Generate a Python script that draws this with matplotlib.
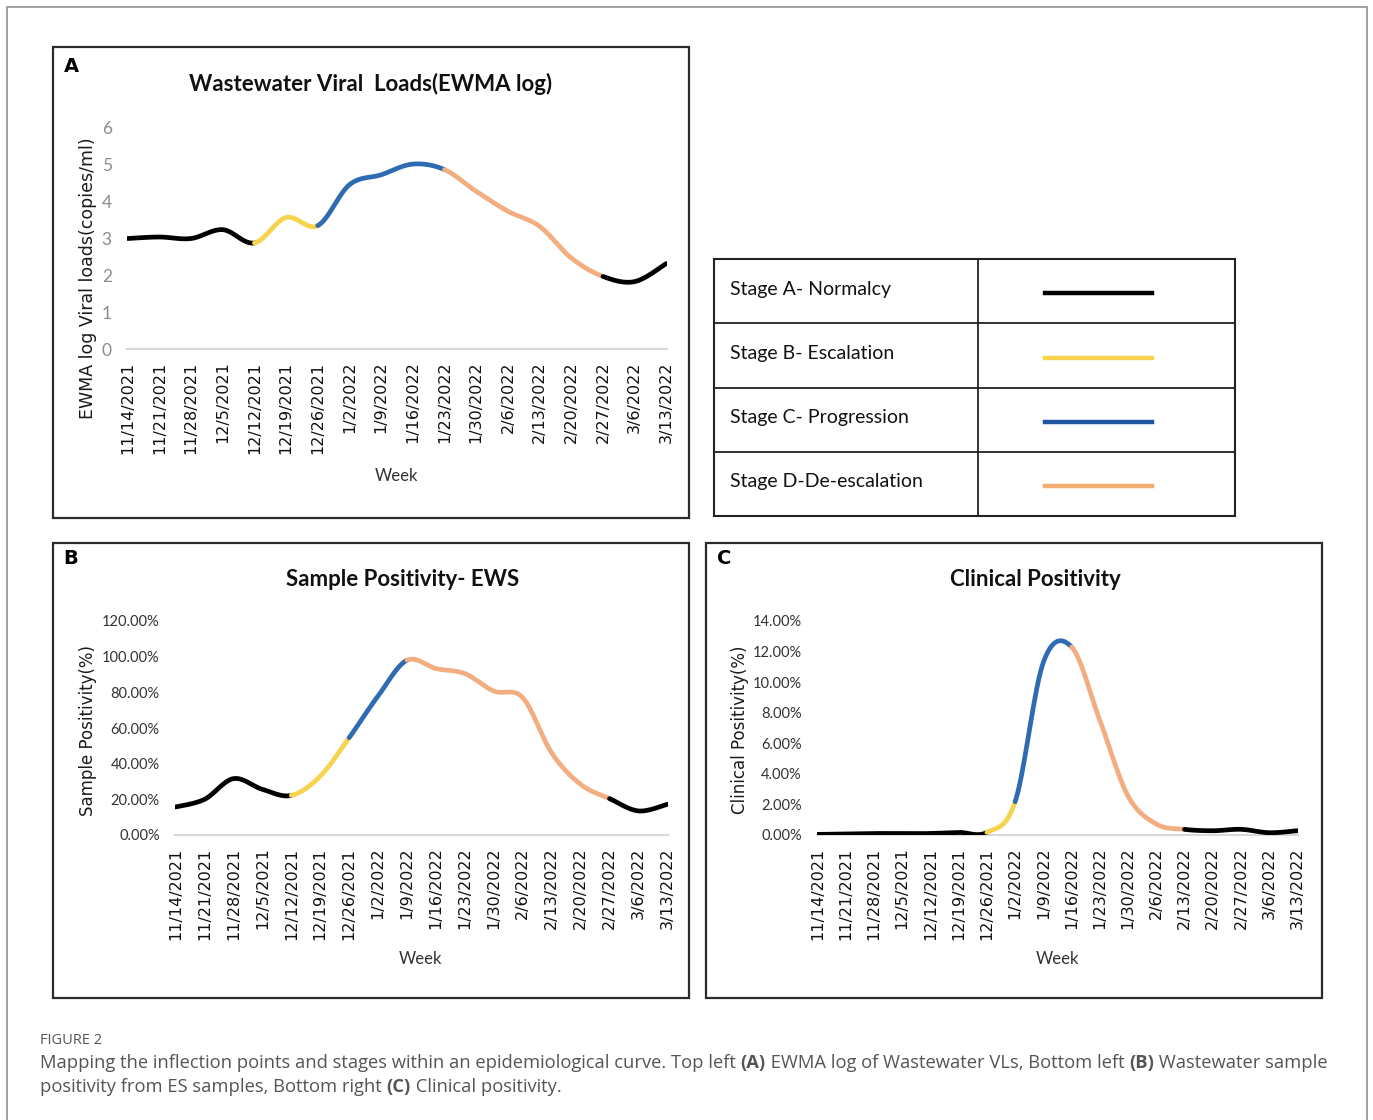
import numpy as np
import matplotlib
matplotlib.use("Agg")
import matplotlib.pyplot as plt
from matplotlib.patches import Rectangle
from matplotlib.lines import Line2D

# ---------------- data ----------------
weeks = ["11/14/2021", "11/21/2021", "11/28/2021", "12/5/2021", "12/12/2021",
         "12/19/2021", "12/26/2021", "1/2/2022", "1/9/2022", "1/16/2022",
         "1/23/2022", "1/30/2022", "2/6/2022", "2/13/2022", "2/20/2022",
         "2/27/2022", "3/6/2022", "3/13/2022"]

ewma_log = [3.00, 3.04, 3.00, 3.24, 2.88, 3.57, 3.35, 4.46, 4.73, 5.02,
            4.87, 4.28, 3.74, 3.33, 2.47, 1.97, 1.83, 2.32]

sample_pos = [0.157, 0.200, 0.316, 0.256, 0.222, 0.330, 0.546, 0.780, 0.980, 0.933,
              0.905, 0.807, 0.770, 0.460, 0.284, 0.204, 0.135, 0.172]

clinical_pos = [0.0004, 0.0007, 0.0010, 0.0009, 0.0010, 0.0017, 0.0017, 0.0218, 0.1130, 0.1230,
                0.0750, 0.0255, 0.0072, 0.0037, 0.0028, 0.0037, 0.0015, 0.0028]

# stage segments: (start index, end index, stage)
stages_A = [(0, 4, "A"), (4, 6, "B"), (6, 10, "C"), (10, 15, "D"), (15, 17, "A")]
stages_B = [(0, 4, "A"), (4, 6, "B"), (6, 8, "C"), (8, 15, "D"), (15, 17, "A")]
stages_C = [(0, 6, "A"), (6, 7, "B"), (7, 9, "C"), (9, 13, "D"), (13, 17, "A")]

stage_names = ["Stage A- Normalcy", "Stage B- Escalation", "Stage C- Progression",
               "Stage D-De-escalation"]
stage_keys = ["A", "B", "C", "D"]
stage_colors = {"A": "#000000", "B": "#F7D34E", "C": "#2E6BB2", "D": "#F2AE80"}
legend_colors = {"A": "#000000", "B": "#F7D34E", "C": "#1F56A0", "D": "#F2AE6E"}

# ---------------- figure ----------------
W, H = 1373, 1120
fig = plt.figure(figsize=(W / 100, H / 100), dpi=100)
fig.patch.set_facecolor("white")


def fx(x):
    return x / W


def fy(y):
    return 1 - y / H


def frame(x0, y0, x1, y1, color="#2b2b2b", lw=1.6):
    fig.patches.append(Rectangle((fx(x0), fy(y1)), fx(x1) - fx(x0), fy(y0) - fy(y1),
                                 transform=fig.transFigure, fill=False,
                                 edgecolor=color, linewidth=lw, zorder=0))


# outer border
fig.patches.append(Rectangle((fx(7), -0.05), fx(1367) - fx(7), fy(7) + 0.05,
                             transform=fig.transFigure, fill=False,
                             edgecolor="#9a9a9a", linewidth=1.3, zorder=0))

# panel frames
frame(53, 47, 689, 518)
frame(53, 543, 689, 998)
frame(706, 543, 1322, 998)


def catmull(xs, ys, n=30):
    xs = np.asarray(xs, float)
    ys = np.asarray(ys, float)
    P = np.column_stack([xs, ys])
    P = np.vstack([P[0], P, P[-1]])
    out = []
    t = np.linspace(0, 1, n)
    for i in range(1, len(P) - 2):
        p0, p1, p2, p3 = P[i - 1], P[i], P[i + 1], P[i + 2]
        c1 = p1 + (p2 - p0) / 6
        c2 = p2 - (p3 - p1) / 6
        seg = ((1 - t) ** 3)[:, None] * p1 + (3 * (1 - t) ** 2 * t)[:, None] * c1 \
            + (3 * (1 - t) * t ** 2)[:, None] * c2 + (t ** 3)[:, None] * p2
        out.append(seg if i == 1 else seg[1:])
    return np.vstack(out)


def make_axes(px, values, stages, ylim, yticks, fmt, ytick_color, ytick_size):
    x0, x1, ytop, ybot = px
    ax = fig.add_axes([fx(x0), fy(ybot), fx(x1) - fx(x0), fy(ytop) - fy(ybot)])
    xs = np.arange(len(values))
    n_per = 30
    curve = catmull(xs, values, n_per)
    for s, e, st in stages:
        seg = curve[s * (n_per - 1): e * (n_per - 1) + 1]
        ax.plot(seg[:, 0], seg[:, 1], color=stage_colors[st], lw=3.4,
                solid_capstyle="round", zorder=3)
    ax.set_xlim(-0.02, len(values) - 1 + 0.02)
    ax.set_ylim(*ylim)
    ax.set_yticks(yticks)
    ax.set_yticklabels([fmt(v) for v in yticks], fontsize=ytick_size,
                       color=ytick_color, family="Lato")
    ax.set_xticks(xs)
    ax.set_xticklabels(weeks, rotation=90, fontsize=11.5, family="DejaVu Sans",
                       color="#111111")
    for sp in ["top", "right", "left"]:
        ax.spines[sp].set_visible(False)
    ax.spines["bottom"].set_color("#d9d9d9")
    ax.spines["bottom"].set_linewidth(1.5)
    ax.tick_params(axis="both", length=0)
    ax.tick_params(axis="y", pad=11)
    ax.tick_params(axis="x", pad=9)
    ax.patch.set_alpha(0)
    return ax


axA = make_axes((127, 667, 128, 349), ewma_log, stages_A, (0, 6), list(range(7)),
                lambda v: f"{v:d}", "#8c8c8c", 12.5)
axB = make_axes((175, 668, 621, 835), sample_pos, stages_B, (0, 1.2),
                [0, 0.2, 0.4, 0.6, 0.8, 1.0, 1.2], lambda v: f"{v*100:.2f}%", "#333333", 10.5)
axC = make_axes((817, 1298, 621, 835), clinical_pos, stages_C, (0, 0.14),
                [0, 0.02, 0.04, 0.06, 0.08, 0.10, 0.12, 0.14],
                lambda v: f"{v*100:.2f}%", "#333333", 10.5)

# panel letters
for lx, ly, t in [(64, 67, "A"), (63, 559, "B"), (717, 559, "C")]:
    fig.text(fx(lx), fy(ly), t, fontsize=14, fontweight="bold", family="DejaVu Sans",
             ha="left", va="center")

# titles
for cx, cy, t in [(371, 84, "Wastewater Viral  Loads(EWMA log)"),
                  (403, 580, "Sample Positivity- EWS"),
                  (1035, 580, "Clinical Positivity")]:
    fig.text(fx(cx), fy(cy), t, fontsize=16, fontweight="bold", family="Lato",
             ha="center", va="center", color="#111111")

# y labels
for cx, cy, t, fs in [(88, 278, "EWMA log Viral loads(copies/ml)", 12.5),
                      (88, 730, "Sample Positivity(%)", 12),
                      (740, 730, "Clinical Positivity(%)", 12)]:
    fig.text(fx(cx), fy(cy), t, fontsize=fs, family="DejaVu Sans", rotation=90,
             ha="center", va="center", color="#1a1a1a")

# x labels
for cx, cy in [(396, 476), (420, 959), (1057, 959)]:
    fig.text(fx(cx), fy(cy), "Week", fontsize=12, family="Lato", ha="center",
             va="center", color="#333333")

# legend table
tx0, tx1, tmid = 714, 1235, 978
rows = [259, 323, 388, 452, 516]
fig.patches.append(Rectangle((fx(tx0), fy(rows[-1])), fx(tx1) - fx(tx0),
                             fy(rows[0]) - fy(rows[-1]), transform=fig.transFigure,
                             fill=False, edgecolor="#222222", linewidth=1.5))
fig.lines.append(Line2D([fx(tmid), fx(tmid)], [fy(rows[0]), fy(rows[-1])],
                        transform=fig.transFigure, color="#222222", lw=1.3))
for r in rows[1:-1]:
    fig.lines.append(Line2D([fx(tx0), fx(tx1)], [fy(r), fy(r)],
                            transform=fig.transFigure, color="#222222", lw=1.3))
for i, (name, key) in enumerate(zip(stage_names, stage_keys)):
    yc = (rows[i] + rows[i + 1]) / 2
    fig.text(fx(730), fy(yc - 2), name, fontsize=14, family="Lato", ha="left",
             va="center", color="#111111")
    fig.lines.append(Line2D([fx(1045), fx(1152)], [fy(yc + 2), fy(yc + 2)],
                            transform=fig.transFigure, color=legend_colors[key], lw=3.2))

# caption
fig.text(fx(40), fy(1040), "FIGURE 2", fontsize=10.5, family="Open Sans",
         color="#555555", ha="left", va="center")

renderer = fig.canvas.get_renderer()


def rich_line(x, y, parts):
    cur = fx(x)
    for txt, bold in parts:
        t = fig.text(cur, fy(y), txt, fontsize=13.2, family="Open Sans",
                     fontweight="bold" if bold else "normal",
                     color="#555555", ha="left", va="center")
        bb = t.get_window_extent(renderer=renderer)
        cur += bb.width / W


rich_line(40, 1063, [("Mapping the inflection points and stages within an epidemiological curve. Top left ", False),
                     ("(A)", True), (" EWMA log of Wastewater VLs, Bottom left ", False),
                     ("(B)", True), (" Wastewater sample", False)])
rich_line(40, 1087, [("positivity from ES samples, Bottom right ", False), ("(C)", True),
                     (" Clinical positivity.", False)])

fig.savefig("out.png", dpi=100, facecolor="white")
